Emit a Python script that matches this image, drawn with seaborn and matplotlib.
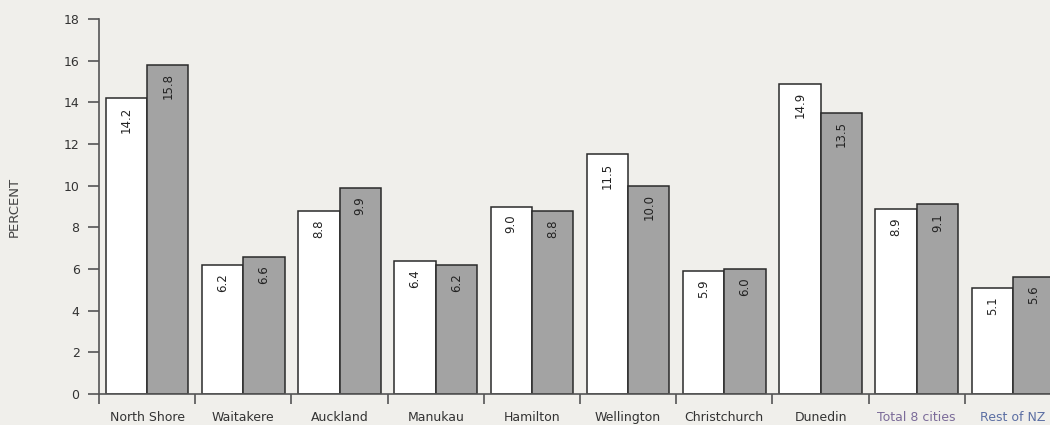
import numpy as np
import pandas as pd
import matplotlib
matplotlib.use("Agg")
import matplotlib.pyplot as plt
import seaborn as sns
from matplotlib.ticker import FixedLocator

cities = ["North Shore", "Waitakere", "Auckland", "Manukau", "Hamilton",
          "Wellington", "Christchurch", "Dunedin", "Total 8 cities", "Rest of NZ"]
first_vals = [14.2, 6.2, 8.8, 6.4, 9.0, 11.5, 5.9, 14.9, 8.9, 5.1]
second_vals = [15.8, 6.6, 9.9, 6.2, 8.8, 10.0, 6.0, 13.5, 9.1, 5.6]
series_names = ["2001", "2006"]
y_ticks = list(range(0, 19, 2))

BG = "#f0efeb"
GREY_BAR = "#a3a3a3"
EDGE = "#2a2a2a"
AXIS = "#555555"
TEXT = "#333333"
label_colors = {"Total 8 cities": "#7b6b99", "Rest of NZ": "#5b6ea3"}

df = pd.DataFrame({
    "city": cities * 2,
    "value": first_vals + second_vals,
    "series": [series_names[0]] * len(cities) + [series_names[1]] * len(cities),
})

sns.set_style("white")
plt.rcParams["font.family"] = ["DejaVu Sans"]

fig = plt.figure(figsize=(10.5, 4.25), dpi=100, facecolor=BG)
# axes deliberately runs past the right edge, like the reference crop
ax = fig.add_axes([99 / 1050, 31 / 425, 962 / 1050, 375 / 425])
ax.set_facecolor(BG)

sns.barplot(data=df, x="city", y="value", hue="series", order=cities,
            palette=["white", GREY_BAR], edgecolor=EDGE, linewidth=1.1,
            width=0.86, gap=0, legend=False, ax=ax)

for cont, vals in zip(ax.containers, [first_vals, second_vals]):
    texts = ax.bar_label(cont, labels=[f"{v:.1f}" for v in vals], rotation=90,
                         padding=-6, fontsize=8.5, color="#222222")
    for t in texts:
        t.set_va("top")

ax.set_xlim(-0.5, len(cities) - 0.5)
ax.set_ylim(0, 18)
ax.set_yticks(y_ticks)
ax.set_xlabel("")
ax.set_ylabel("PERCENT", fontsize=9.5, color="#444444")
ax.yaxis.set_label_coords(-0.081, 0.5)

sns.despine(ax=ax)
for side in ["left", "bottom"]:
    ax.spines[side].set_color(AXIS)
    ax.spines[side].set_linewidth(1.2)

ax.xaxis.set_minor_locator(FixedLocator(np.arange(-0.5, len(cities), 1.0)))
ax.tick_params(axis="x", which="both", bottom=True)
ax.tick_params(axis="x", which="major", length=0, pad=12, labelsize=9, labelcolor=TEXT)
ax.tick_params(axis="x", which="minor", length=7.5, width=1.2, color=AXIS, direction="out")
ax.tick_params(axis="y", left=True, length=8, width=1.2, color=AXIS, direction="out",
               pad=6, labelsize=9, labelcolor=TEXT)

for lab in ax.get_xticklabels():
    lab.set_color(label_colors.get(lab.get_text(), TEXT))

fig.savefig("out.png", dpi=100, facecolor=BG)
